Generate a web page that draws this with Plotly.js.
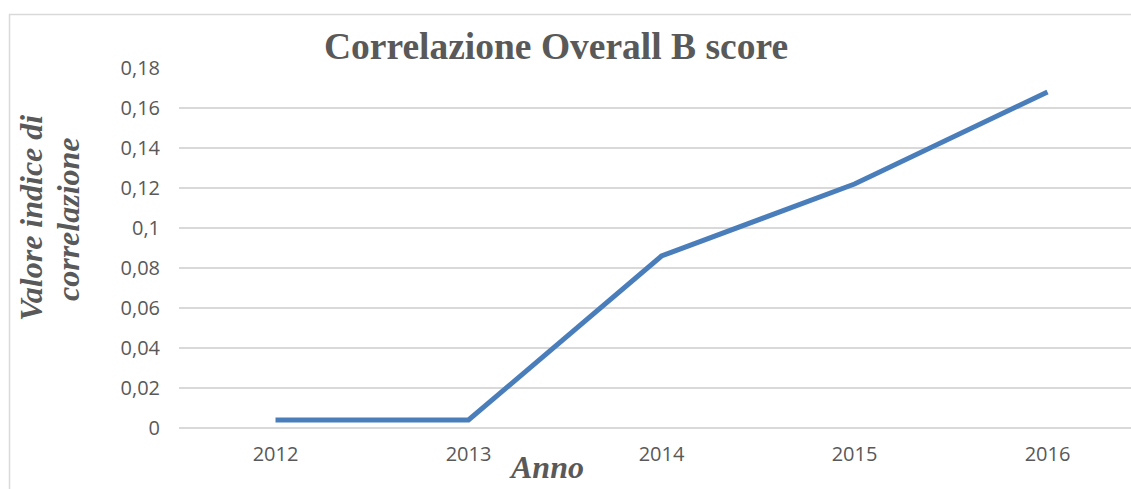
<!DOCTYPE html>
<html>
<head>
<meta charset="utf-8">
<script src="https://cdn.plot.ly/plotly-3.0.1.min.js"></script>
<style>html,body{margin:0;padding:0;background:#fff;}#chart{width:1131px;height:489px;}</style>
</head>
<body>
<div id="chart"></div>
<script>
const years = ['2012', '2013', '2014', '2015', '2016'];
const correlationValues = [0.004, 0.004, 0.086, 0.122, 0.168];
const yTickVals = [0, 0.02, 0.04, 0.06, 0.08, 0.1, 0.12, 0.14, 0.16, 0.18];
const yTickText = ['0', '0,02', '0,04', '0,06', '0,08', '0,1', '0,12', '0,14', '0,16', '0,18'];
const chartTitle = 'Correlazione Overall B score';
const xTitle = 'Anno';
const yTitleLines = ['Valore indice di', 'correlazione'];

const W = 1131, H = 489;
const m = {l: 179, r: 0, t: 68, b: 61};
const pw = W - m.l - m.r, ph = H - m.t - m.b;
const catW = 193;
const px = x => (x - m.l) / pw;
const py = y => (H - m.b - y) / ph;

const trace = {
  x: years,
  y: correlationValues,
  type: 'scatter',
  mode: 'lines',
  line: {color: '#4a7ebb', width: 5},
  hoverinfo: 'x+y'
};

const gray = '#595959';
const axisTitleFont = {family: 'Liberation Serif', size: 32, weight: 'bold', style: 'italic', color: gray};
const layout = {
  width: W, height: H,
  margin: m,
  paper_bgcolor: '#fff', plot_bgcolor: '#fff',
  separators: ',.',
  showlegend: false,
  title: {
    text: chartTitle,
    font: {family: 'Liberation Serif', size: 37.5, weight: 'bold', color: gray},
    xref: 'container', yref: 'container',
    x: 556 / W, y: 1 - 46 / H, xanchor: 'center', yanchor: 'middle'
  },
  xaxis: {
    type: 'category',
    range: [-0.5, -0.5 + pw / catW],
    showgrid: false, zeroline: false, showline: false,
    ticks: '',
    ticklabelstandoff: 12,
    tickfont: {family: 'Open Sans', size: 20, color: gray},
    fixedrange: true
  },
  yaxis: {
    range: [0, 0.18],
    tickvals: yTickVals,
    ticktext: yTickText,
    showgrid: true, gridcolor: '#d9d9d9', gridwidth: 1.5,
    zeroline: true, zerolinecolor: '#d9d9d9', zerolinewidth: 1.5,
    showline: false, ticks: '',
    ticklabelstandoff: 18,
    tickfont: {family: 'Open Sans', size: 20, color: gray},
    fixedrange: true
  },
  annotations: [
    {
      text: xTitle, showarrow: false,
      xref: 'paper', yref: 'paper',
      x: px(546), y: py(467), xanchor: 'center', yanchor: 'middle',
      font: axisTitleFont
    },
    {
      text: yTitleLines[0], showarrow: false, textangle: -90,
      xref: 'paper', yref: 'paper',
      x: px(31), y: py(218), xanchor: 'center', yanchor: 'middle',
      font: axisTitleFont
    },
    {
      text: yTitleLines[1], showarrow: false, textangle: -90,
      xref: 'paper', yref: 'paper',
      x: px(68), y: py(219), xanchor: 'center', yanchor: 'middle',
      font: axisTitleFont
    }
  ],
  shapes: [
    {
      type: 'rect', xref: 'paper', yref: 'paper',
      x0: px(9.5), x1: px(1140), y0: py(500), y1: py(14.5),
      line: {color: '#d9d9d9', width: 1.5}, fillcolor: 'rgba(0,0,0,0)', layer: 'below'
    }
  ]
};

Plotly.newPlot('chart', [trace], layout, {displayModeBar: false, staticPlot: true});
</script>
</body>
</html>
